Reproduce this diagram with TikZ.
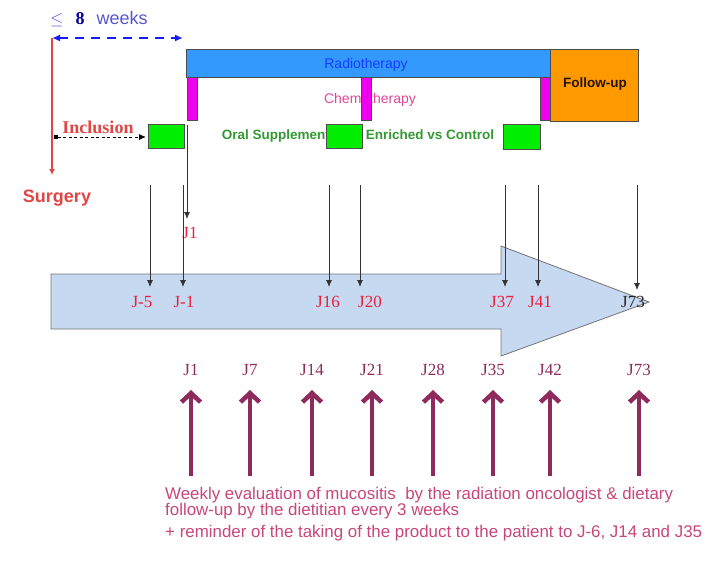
\documentclass[tikz,border=0pt]{standalone}
\usepackage{fontspec}
\setmainfont{Liberation Serif}
\setsansfont{Liberation Sans}
\usetikzlibrary{arrows.meta,positioning}
\definecolor{radioblue}{HTML}{3399FF}
\definecolor{followorange}{HTML}{FF9900}
\definecolor{chemomag}{HTML}{EE00EE}
\definecolor{suppgreen}{HTML}{00EE00}
\definecolor{jred}{HTML}{E8203A}
\definecolor{surgred}{HTML}{E04646}
\definecolor{weekblue}{HTML}{5555CC}
\definecolor{maroon}{HTML}{8E2A5C}
\definecolor{notepink}{HTML}{C8467A}
\definecolor{arrowfill}{HTML}{C6D9F0}

\begin{document}
\begin{tikzpicture}[x=1pt,y=-1pt,
  jlabel/.style={font=\fontsize{17}{17}\selectfont, text=jred, inner sep=0pt},
  weeklabel/.style={font=\fontsize{17}{17}\selectfont, text=maroon, inner sep=0pt},
  bar/.style={draw=black!70, line width=0.8pt},
  visit/.style={draw=black!80, line width=0.8pt, -{Latex[length=7pt,width=6pt]}},
  evalarrow/.style={draw=maroon, line width=4.5pt, -{Straight Barb[length=9pt,width=19pt]}}]
\useasboundingbox (0,0) rectangle (716,573);

\node[font=\sffamily\fontsize{18}{18}\selectfont, text=weekblue, anchor=west, inner sep=0pt] (weeks) at (50,19)
  {$\leq$\hspace{12pt}{\rmfamily\bfseries\color{blue!60!black}8}\hspace{12pt}weeks};
\coordinate (surg) at (52,38);
\coordinate (rtstart) at (183,38);
\draw[blue!90!white, line width=2pt, dash pattern=on 9pt off 7pt,
  {Latex[length=8pt,width=7pt]}-{Latex[length=8pt,width=7pt]}] (surg) -- (rtstart);
\coordinate (surgend) at (52,175);
\draw[surgred, line width=1.8pt, -{Latex[length=6pt,width=6pt]}] (surg) -- (surgend);
\node[font=\sffamily\bfseries\fontsize{18}{18}\selectfont, text=surgred] (surgery) at (57,198) {Surgery};

\node[font=\bfseries\fontsize{18}{18}\selectfont, text=surgred] (inclusion) at (98,127) {Inclusion};
\coordinate (incl) at (54,137);
\coordinate (incend) at (146,137);
\draw[black, line width=0.9pt, dash pattern=on 3pt off 2.5pt,
  {Square[length=4pt,width=4pt]}-{Latex[length=7pt,width=6pt]}] (incl) -- (incend);

\draw[bar, fill=radioblue] (186,49) rectangle (550,77);
\node[font=\sffamily\fontsize{14}{14}\selectfont, text=blue!60!radioblue] (radio) at (366,65) {Radiotherapy};
\draw[bar, fill=followorange] (550,49) rectangle (638,121);
\node[font=\sffamily\bfseries\fontsize{13.5}{13.5}\selectfont, text=black!85!orange] (follow) at (595,84) {Follow-up};
\node[font=\sffamily\fontsize{14}{14}\selectfont, text=magenta!70!pink!90!black] (chemo) at (370,100) {Chemotherapy};
\foreach \x in {187,361,540}
  \draw[bar, fill=chemomag] (\x,77) rectangle ++(10,43);
\node[font=\sffamily\bfseries\fontsize{13.5}{13.5}\selectfont, text=green!50!black!80!white] (oral) at (358,136)
  {Oral Supplementation Enriched vs Control};
\draw[bar, fill=suppgreen] (148,124) rectangle (184,148);
\draw[bar, fill=suppgreen] (326,124) rectangle (362,148);
\draw[bar, fill=suppgreen] (503,124) rectangle (540,149);

\coordinate (j1top) at (187,125);
\coordinate (j1end) at (187,219);
\draw[visit] (j1top) -- (j1end);
\node[jlabel] (j1) at (190,233) {J1};

\draw[draw=black!55, line width=0.8pt, fill=arrowfill]
  (51,274) -- (501,274) -- (501,246) -- (649,302) -- (501,356) -- (501,329) -- (51,329) -- cycle;

\foreach \x/\lx/\t [count=\i] in {150/142/J-5, 183/184/J-1, 329/328/J16, 360/370/J20, 505/502/J37, 538/540/J41} {
  \coordinate (vtop\i) at (\x,185);
  \coordinate (vend\i) at (\x,287);
  \draw[visit] (vtop\i) -- (vend\i);
  \node[jlabel] (vis\i) at (\lx,302) {\t};
}
\coordinate (vtop7) at (637,185);
\coordinate (vend7) at (637,290);
\draw[visit] (vtop7) -- (vend7);
\node[jlabel, text=black!85] (vis7) at (633,302) {J73};

\foreach \x/\t [count=\i] in {191/J1, 250/J7, 312/J14, 372/J21, 433/J28, 493/J35, 550/J42, 639/J73} {
  \node[weeklabel] (wk\i) at (\x,370) {\t};
  \coordinate (wbot\i) at (\x,476);
  \coordinate (wtop\i) at (\x,390);
  \draw[evalarrow] (wbot\i) -- (wtop\i);
}

\node[font=\sffamily\fontsize{16.9}{16.5}\selectfont, text=notepink, anchor=north west, inner sep=0pt, align=left] (note) at (165,487)
  {Weekly evaluation of mucositis\ \ by the radiation oncologist \& dietary\\follow-up by the dietitian every 3 weeks};
\node[font=\sffamily\fontsize{16.9}{16.9}\selectfont, text=notepink, anchor=north west, inner sep=0pt] (remind) at (165,525)
  {+ reminder of the taking of the product to the patient to J-6, J14 and J35};
\end{tikzpicture}
\end{document}
